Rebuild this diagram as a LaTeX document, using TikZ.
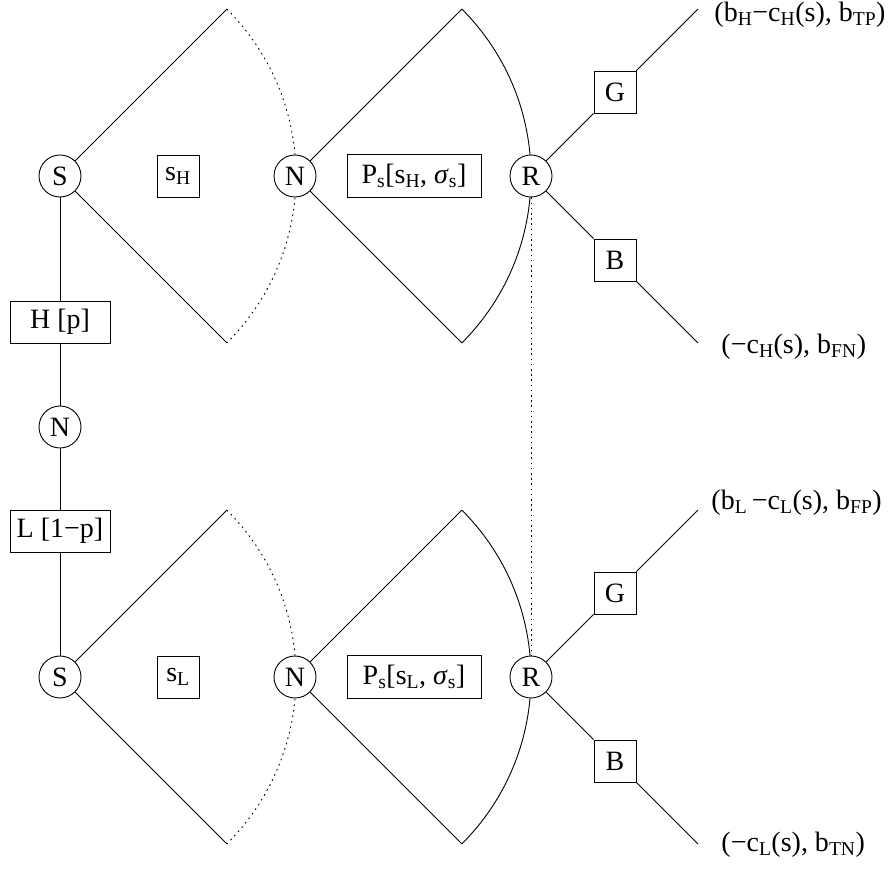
\documentclass[tikz,border=0pt]{standalone}
\usepackage{fontspec}
\setmainfont{Liberation Serif}
\usetikzlibrary{calc}
\newcommand\lowidx[1]{\textsubscript{#1}}
\begin{document}
\begin{tikzpicture}[x=1pt,y=1pt,line width=0.9pt,
  every node/.style={font=\fontsize{28}{33}\selectfont},
  chance/.style={circle, draw, fill=white, minimum size=42pt, inner sep=0pt},
  sq/.style={rectangle, draw, fill=white, minimum size=42pt, inner sep=0pt},
  wide/.style={rectangle, draw, fill=white, minimum width=100pt, minimum height=42pt, inner sep=0pt},
  info/.style={rectangle, draw, fill=white, minimum width=134pt, minimum height=43pt, inner sep=0pt},
  payoff/.style={anchor=west, inner sep=0pt},
  hidden/.style={dash pattern=on 1.6pt off 4pt},
  link/.style={dash pattern=on 1.6pt off 3.6pt}]
\useasboundingbox (0,0) rectangle (892,868);

% positions of the decision rows
\foreach \row/\yy in {t/692, b/191}{
  \coordinate (pS\row) at (60,\yy);
  \coordinate (pN\row) at (295,\yy);
  \coordinate (pR\row) at (531,\yy);
  % fan end points (radius 236 at +-45 degrees)
  \coordinate (S\row up) at ($(pS\row)+(45:236)$);
  \coordinate (S\row dn) at ($(pS\row)+(-45:236)$);
  \coordinate (N\row up) at ($(pN\row)+(45:236)$);
  \coordinate (N\row dn) at ($(pN\row)+(-45:236)$);
  \coordinate (R\row up) at ($(pR\row)+(45:236)$);
  \coordinate (R\row dn) at ($(pR\row)+(-45:236)$);
  % information sets
  \draw[hidden] (S\row up) arc[start angle=45, end angle=-45, radius=236];
  \draw (N\row up) arc[start angle=45, end angle=-45, radius=236];
}

% nature's draw
\node[chance] (N0) at (60,441) {N};
\node[wide] (H) at (60,546) {H [p]};
\node[wide] (L) at (60,337) {L [1−p]};

% upper row
\node[chance] (St) at (pSt) {S};
\node[chance] (Nt) at (pNt) {N};
\node[chance] (Rt) at (pRt) {R};
\node[sq] (sH) at (178,692) {s\lowidx{H}};
\node[info] (PH) at (414,692) {P\lowidx{s}[s\lowidx{H}, \textit{σ}\lowidx{s}]};
\node[sq] (Gt) at (615,776) {G};
\node[sq] (Bt) at (615,608) {B};

% lower row
\node[chance] (Sb) at (pSb) {S};
\node[chance] (Nb) at (pNb) {N};
\node[chance] (Rb) at (pRb) {R};
\node[sq] (sL) at (178,191) {s\lowidx{L}};
\node[info] (PL) at (414,191) {P\lowidx{s}[s\lowidx{L}, \textit{σ}\lowidx{s}]};
\node[sq] (Gb) at (615,275) {G};
\node[sq] (Bb) at (615,107) {B};

% payoffs
\node[payoff] (TP) at (714,853) {(b\lowidx{H}−c\lowidx{H}(s), b\lowidx{TP})};
\node[payoff] (FN) at (721,521) {(−c\lowidx{H}(s), b\lowidx{FN})};
\node[payoff] (FP) at (711,365) {(b\lowidx{L}\,−c\lowidx{L}(s), b\lowidx{FP})};
\node[payoff] (TN) at (721,23) {(−c\lowidx{L}(s), b\lowidx{TN})};

% trunk
\draw (St) -- (H) -- (N0) -- (L) -- (Sb);

% branches
\foreach \row in {t,b}{
  \draw (S\row up) -- (S\row) -- (S\row dn);
  \draw (N\row up) -- (N\row) -- (N\row dn);
  \draw (R\row) -- (G\row) -- (R\row up);
  \draw (R\row) -- (B\row) -- (R\row dn);
}

% receiver's information set
\draw[link] (Rt) -- (Rb);
\end{tikzpicture}
\end{document}
